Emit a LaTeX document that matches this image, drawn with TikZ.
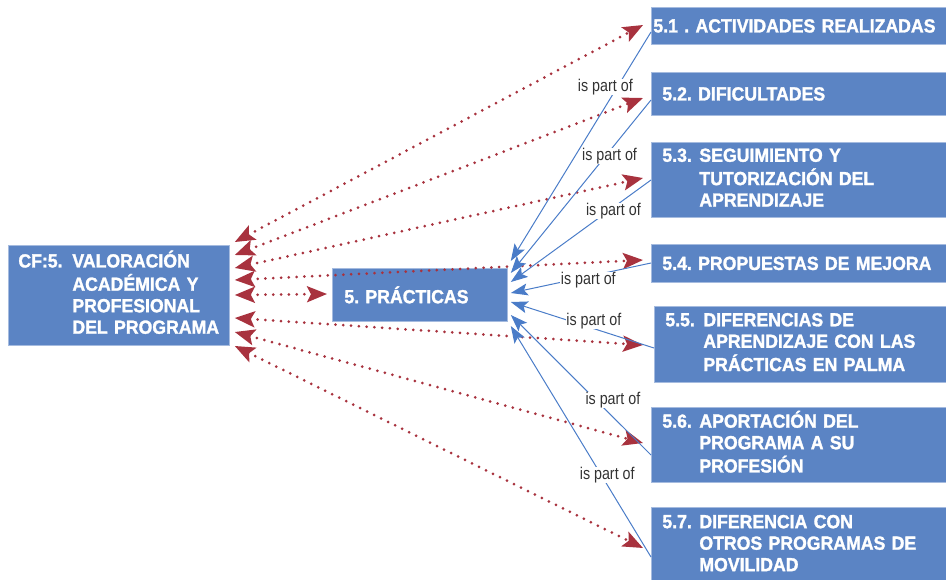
\documentclass[tikz,border=0pt]{standalone}
\usepackage{fontspec}
\newfontfamily\boxfont{Liberation Sans}[FakeStretch=0.93, FakeBold=1.5]
\newfontfamily\labfont{Liberation Sans}[FakeStretch=0.84]
\usetikzlibrary{arrows.meta,calc}
\definecolor{boxblue}{HTML}{5B84C4}
\definecolor{dotred}{HTML}{A8323E}
\definecolor{lineblue}{HTML}{4A7CC8}
\frenchspacing
\begin{document}
\begin{tikzpicture}[x=1pt,y=-1pt,
  box/.style={rectangle, fill=boxblue, draw=boxblue!55!white, line width=0.8pt,
    text=white, font=\boxfont\bfseries\fontsize{19}{21.5}\selectfont\frenchspacing,
    anchor=north west, align=left, inner ysep=0pt, inner xsep=11pt, text width=290pt},
  redarr/.style={dotred, line width=3pt, dash pattern=on 0pt off 7.8pt, line cap=round,
    {Stealth[length=20pt,width=16pt,inset=4pt]}-{Stealth[length=20pt,width=16pt,inset=4pt]}},
  bluearr/.style={lineblue, line width=1pt, -{Stealth[length=17pt,width=12pt,inset=3.5pt]}},
  lab/.style={font=\labfont\fontsize{17}{19}\selectfont, text=black!80, fill=white, inner sep=0.5pt}]
\useasboundingbox (0,0) rectangle (946,579);

% boxes
\node[box, inner xsep=10pt, text width=201pt, minimum height=100pt] (L) at (8,245)
  {\begin{tabular}{@{}p{54pt}@{}l@{}}CF:5. & VALORACIÓN\\ & ACADÉMICA Y\\ & PROFESIONAL\\ & DEL PROGRAMA\end{tabular}};
\node[box, inner xsep=12pt, text width=151pt, minimum height=53pt] (M) at (332,268) {5. PRÁCTICAS};
\node[box, inner xsep=2pt, text width=306pt, minimum height=37pt] (b1) at (651,7) {5.1 . ACTIVIDADES REALIZADAS};
\node[box, minimum height=43pt] (b2) at (651,72) {5.2. DIFICULTADES};
\node[box, minimum height=75pt] (b3) at (651,142)
  {\begin{tabular}{@{}p{37pt}@{}l@{}}5.3. & SEGUIMIENTO Y\\ & TUTORIZACIÓN DEL\\ & APRENDIZAJE\end{tabular}};
\node[box, minimum height=38pt] (b4) at (651,244) {5.4. PROPUESTAS DE MEJORA};
\node[box, minimum height=76pt] (b5) at (654,306)
  {\begin{tabular}{@{}p{38pt}@{}l@{}}5.5. & DIFERENCIAS DE\\ & APRENDIZAJE CON LAS\\ & PRÁCTICAS EN PALMA\end{tabular}};
\node[box, minimum height=75pt] (b6) at (651,407)
  {\begin{tabular}{@{}p{37pt}@{}l@{}}5.6. & APORTACIÓN DEL\\ & PROGRAMA A SU\\ & PROFESIÓN\end{tabular}};
\node[box, minimum height=76pt] (b7) at (651,507)
  {\begin{tabular}{@{}p{37pt}@{}l@{}}5.7. & DIFERENCIA CON\\ & OTROS PROGRAMAS DE\\ & MOVILIDAD\end{tabular}};

% red dotted double arrows
\draw[redarr] ($(L.north east)+(5,-3)$) -- ($(b1.north west)+(-8,18)$);
\draw[redarr] ($(L.north east)+(5,10)$) -- ($(b2.north west)+(-8,26)$);
\draw[redarr] ($(L.north east)+(5,23)$) -- ($(b3.north west)+(-8,36)$);
\draw[redarr] ($(L.north east)+(5,35)$) -- ($(b4.north west)+(-8,16)$);
\draw[redarr] ($(L.north east)+(5,50)$) -- ($(M.north west)+(-5,26)$);
\draw[redarr] ($(L.north east)+(5,73)$) -- ($(b5.north west)+(-11,39)$);
\draw[redarr] ($(L.north east)+(5,87)$) -- ($(b6.north west)+(-8,36)$);
\draw[redarr] ($(L.north east)+(5,101)$) -- ($(b7.north west)+(-8,41)$);

% blue "is part of" arrows
\draw[bluearr] ($(b1.north west)+(0,25)$) -- node[lab,pos=0.24,xshift=-12pt]{is part of} ($(M.north east)+(3,-7)$);
\draw[bluearr] ($(b2.north west)+(0,28)$) -- node[lab,pos=0.324,xshift=4pt]{is part of} ($(M.north east)+(3,5)$);
\draw[bluearr] ($(b3.north west)+(0,38)$) -- node[lab,pos=0.304,xshift=5pt]{is part of} ($(M.north east)+(3,14)$);
\draw[bluearr] ($(b4.north west)+(0,19)$) -- node[lab,pos=0.447,yshift=-3.6pt]{is part of} ($(M.north east)+(3,25)$);
\draw[bluearr] ($(b5.north west)+(0,42)$) -- node[lab,pos=0.42,yshift=7.7pt]{is part of} ($(M.north east)+(3,34)$);
\draw[bluearr] ($(b6.north west)+(0,48)$) -- node[lab,pos=0.393,xshift=17pt]{is part of} ($(M.north east)+(3,47)$);
\draw[bluearr] ($(b7.north west)+(0,50)$) -- node[lab,pos=0.355,xshift=6pt]{is part of} ($(M.north east)+(3,58)$);
\end{tikzpicture}
\end{document}
